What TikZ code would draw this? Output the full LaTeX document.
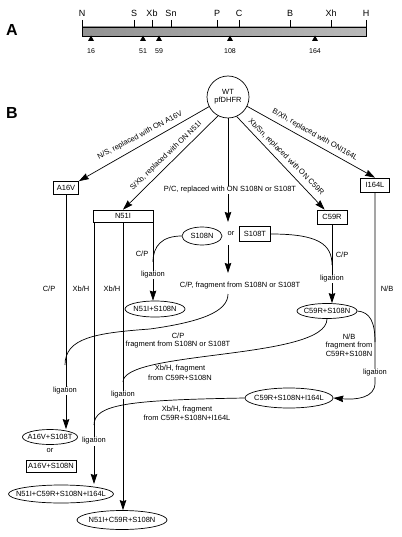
\documentclass[tikz,border=0pt]{standalone}
\usepackage{fontspec}
\setmainfont{Liberation Sans}
\usetikzlibrary{shapes.geometric,arrows.meta,calc}
\newcommand{\ovtxt}[1]{\makebox[0pt]{#1}}
\begin{document}
\begin{tikzpicture}[x=1pt,y=-1pt,
  lbl/.style={font=\fontsize{7.5}{8.5}\selectfont, inner sep=1pt},
  wbg/.style={lbl, fill=white},
  box/.style={draw, rectangle, inner sep=0pt, line width=0.7pt, lbl},
  oval/.style={draw, ellipse, inner sep=0pt, line width=0.7pt, lbl},
  ln/.style={line width=0.7pt},
  arr/.style={ln, -{Stealth[length=10pt,width=6.5pt,inset=1pt]}},
  sitelbl/.style={font=\fontsize{9}{10}\selectfont, inner sep=0pt},
  numlbl/.style={font=\fontsize{7}{8}\selectfont, inner sep=0pt},
  panel/.style={font=\fontsize{16}{16}\selectfont\bfseries, inner sep=0pt}]
\path[use as bounding box] (0,0) rectangle (401,537);

% ---------- Panel A ----------
\node[panel] (labA) at (12,30) {A};
\shade[left color=gray!85, right color=gray!55, draw=black, line width=0.6pt] (82,27) rectangle (366,36);
\foreach \x/\t in {82/N,134/S,152/Xb,171/Sn,217/P,239/C,290/B,331/Xh,366/H}{
  \draw[line width=0.6pt] (\x,20) -- (\x,27);
  \node[sitelbl] (site\t) at (\x,13) {\t};
}
\foreach \x/\n in {91/16,143/51,159/59,230/108,315/164}{
  \fill (\x-3,41) -- (\x+3,41) -- (\x,35.5) -- cycle;
  \node[numlbl] (num\n) at (\x,51) {\n};
}

% ---------- Panel B ----------
\node[panel] (labB) at (12,113) {B};
\node[circle, draw, ln, minimum size=42pt, inner sep=0pt, align=center,
      font=\fontsize{7.5}{8}\selectfont] (wt) at (228,97) {WT\\pfDHFR};

\node[box, minimum width=25pt, minimum height=13pt] (a16v) at (66,188) {A16V};
\node[box, minimum width=60pt, minimum height=12pt] (n51i) at (123,216) {N51I};
\node[oval, minimum width=40pt, minimum height=18pt] (s108n) at (202,236) {\ovtxt{S108N}};
\node[lbl] (or1) at (231,234) {or};
\node[box, minimum width=31pt, minimum height=15pt] (s108t) at (255,234) {S108T};
\node[box, minimum width=30pt, minimum height=14pt] (c59r) at (332,217) {C59R};
\node[box, minimum width=29pt, minimum height=14pt] (i164l) at (375,185) {I164L};

\node[oval, minimum width=60pt, minimum height=16pt] (ns) at (155,309) {\ovtxt{N51I+S108N}};
\node[oval, minimum width=60pt, minimum height=15pt] (cs) at (327,311) {\ovtxt{C59R+S108N}};
\node[oval, minimum width=88pt, minimum height=20pt] (csi) at (289,398) {\ovtxt{C59R+S108N+I164L}};
\node[oval, minimum width=55pt, minimum height=15pt] (avt) at (50,437) {\ovtxt{A16V+S108T}};
\node[lbl] (or2) at (50,451) {or};
\node[box, minimum width=50pt, minimum height=12pt] (avn) at (51,466) {A16V+S108N};
\node[oval, minimum width=105pt, minimum height=18pt] (ncsi) at (61,494) {\ovtxt{N51I+C59R+S108N+I164L}};
\node[oval, minimum width=90pt, minimum height=19pt] (ncs) at (122,520) {\ovtxt{N51I+C59R+S108N}};

% coordinates
\coordinate (nL) at (94,222);
\coordinate (nM) at (123,222);
\coordinate (nR) at (153,222);
\coordinate (pcEnd) at (228,222);
\coordinate (orS) at (228,245);
\coordinate (orE) at (228,273);
\coordinate (cpS) at (228,294);
\coordinate (jA) at (65,365);
\coordinate (jM) at (123,382);
\coordinate (jL) at (94,425);
\coordinate (jR) at (153,262);
\coordinate (jC) at (332,265);
\coordinate (jI) at (375,342);
\coordinate (bI) at (375,383);

% arrows from WT
\draw[arr] (wt.207) -- (a16v.north east);
\draw[arr] (wt.242) -- (n51i.north);
\draw[arr] (wt.south) -- (pcEnd);
\draw[arr] (wt.294) -- (c59r.135);
\draw[arr] (wt.334) -- (i164l.north);

\node[lbl, rotate=28] (lab1) at (140,135.5) {N/S, replaced with ON A16V};
\node[lbl, rotate=44] (lab2) at (166,156) {S/Xb, replaced with ON N51I};
\node[lbl, rotate=-45] (lab3) at (286,157) {Xb/Sn, replaced with ON C59R};
\node[lbl, rotate=-29.5] (lab4) at (315,135) {B/Xh, replaced with ONI164L};
\node[wbg] (lab5) at (230,190) {P/C, replaced with ON S108N or S108T};

% S108N/T branch
\draw[arr] (orS) -- (orE);
\node[lbl] (cpf) at (240,286) {C/P, fragment from S108N or S108T};
\draw[ln] (cpS) .. controls (228,312) and (200,322) .. (150,329)
                .. controls (95,333) and (65,338) .. (jA);
\node[lbl] (cpf2a) at (178,336) {C/P};
\node[lbl] (cpf2b) at (178,345) {fragment from S108N or S108T};

% vertical lines
\draw[arr] (a16v.south) -- (a16v.south |- avt.north);
\draw[arr] (nL) -- (94,484);
\draw[arr] (nM) -- (nM |- ncs.north);
\draw[arr] (nR) -- (nR |- ns.north);
\draw[arr] (c59r.south) -- (c59r.south |- cs.north);
\draw[arr] (i164l.south) -- (bI) .. controls (375,398) and (356,400) .. (csi.east);

% joining curves
\draw[ln] (s108n.west) .. controls (162,236) and (153,246) .. (jR);
\draw[ln] (s108t.east) .. controls (318,234) and (332,244) .. (jC);
\draw[ln] (cs.south) .. controls (327,360) and (123,350) .. (jM);
\draw[ln] (csi.west) .. controls (130,400) and (94,404) .. (jL);
\draw[ln] (cs.east) .. controls (370,312) and (375,322) .. (jI);

% labels
\node[lbl] (l1) at (49,289) {C/P};
\node[lbl] (l2) at (81,289) {Xb/H};
\node[lbl] (l3) at (112,289) {Xb/H};
\node[lbl] (l4) at (142,254) {C/P};
\node[wbg] (l5) at (153,275) {ligation};
\node[lbl] (l6) at (342,255) {C/P};
\node[wbg] (l7) at (332,279) {ligation};
\node[lbl] (l8) at (387,289) {N/B};
\node[lbl, align=center, font=\fontsize{7.5}{8.5}\selectfont] (l9) at (349,345) {N/B\\fragment from\\C59R+S108N};
\node[wbg] (l10) at (375,373) {ligation};
\node[lbl] (l11a) at (180,369) {Xb/H, fragment};
\node[lbl] (l11b) at (180,378) {from C59R+S108N};
\node[lbl] (l12a) at (187,410) {Xb/H, fragment};
\node[lbl] (l12b) at (187,418) {from C59R+S108N+I164L};
\node[wbg] (l13) at (65,391) {ligation};
\node[wbg] (l14) at (123,395) {ligation};
\node[wbg] (l15) at (94,441) {ligation};
\end{tikzpicture}
\end{document}
